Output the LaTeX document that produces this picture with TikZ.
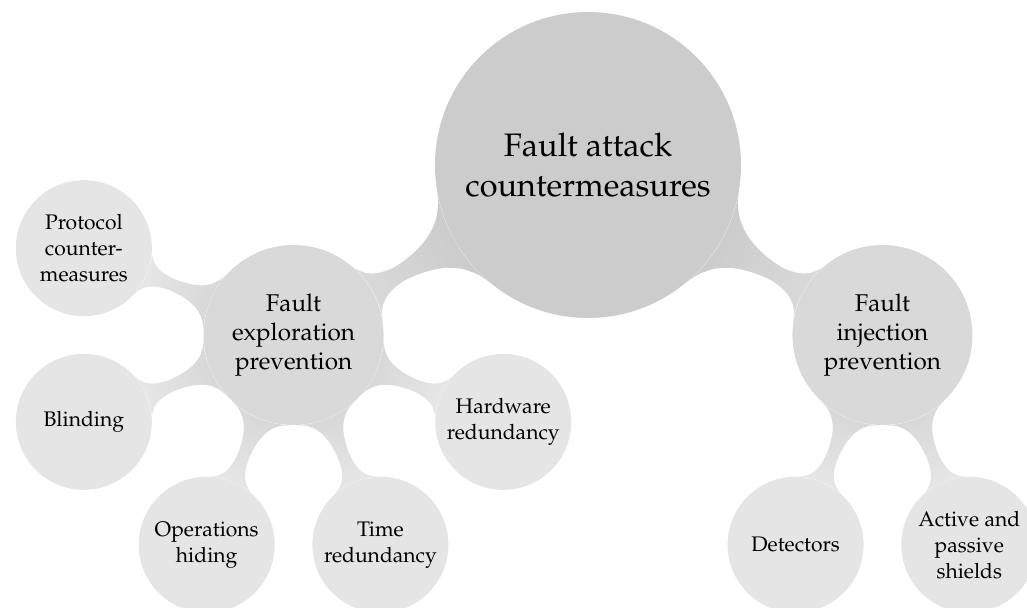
\documentclass[tikz,border=0pt]{standalone}
\usepackage[T1]{fontenc}
\usepackage{mathpazo}
\usetikzlibrary{mindmap,calc,backgrounds}
\colorlet{rootcol}{black!20}
\colorlet{levelonecol}{black!15}
\colorlet{leveltwocol}{black!10}
\begin{document}
\begin{tikzpicture}[
  rootnode/.style={circle, fill=rootcol, minimum size=6.12cm, inner sep=0pt, align=center, font=\fontsize{18.5}{22.5}\selectfont},
  onenode/.style={circle, fill=levelonecol, minimum size=3.6cm, inner sep=0pt, align=center, font=\fontsize{13.8}{16.6}\selectfont},
  twonode/.style={circle, fill=leveltwocol, minimum size=2.72cm, inner sep=0pt, align=center, font=\fontsize{12}{14.8}\selectfont},
  rootbar/.style={circle connection bar switch color=from (rootcol) to (levelonecol)},
  onebar/.style={circle connection bar switch color=from (levelonecol) to (leveltwocol)}
]
\useasboundingbox (0,0) rectangle (20.54,-12.14);
\node[rootnode] (root) at (11.76,-3.30) {Fault attack\\countermeasures};
\node[onenode] (explo) at ($(root)+(210:6.8)$) {Fault\\exploration\\prevention};
\node[onenode] (inject) at ($(root)+(330:6.8)$) {Fault\\injection\\prevention};
\node[twonode] (protocol) at ($(explo)+(157.5:4.54)$) {Protocol\\counter-\\measures};
\node[twonode] (blinding) at ($(explo)+(202.5:4.54)$) {Blinding};
\node[twonode] (ophiding) at ($(explo)+(247.5:4.54)$) {Operations\\hiding};
\node[twonode] (timered) at ($(explo)+(292.5:4.54)$) {Time\\redundancy};
\node[twonode] (hwred) at ($(explo)+(337.5:4.54)$) {Hardware\\redundancy};
\node[twonode] (detectors) at ($(inject)+(247.5:4.54)$) {Detectors};
\node[twonode] (shields) at ($(inject)+(292.5:4.54)$) {Active and\\passive\\shields};
\begin{scope}[on background layer]
\path (root) to[rootbar] (explo);
\path (root) to[rootbar] (inject);
\path (explo) to[onebar] (protocol);
\path (explo) to[onebar] (blinding);
\path (explo) to[onebar] (ophiding);
\path (explo) to[onebar] (timered);
\path (explo) to[onebar] (hwred);
\path (inject) to[onebar] (detectors);
\path (inject) to[onebar] (shields);
\end{scope}
\end{tikzpicture}
\end{document}
